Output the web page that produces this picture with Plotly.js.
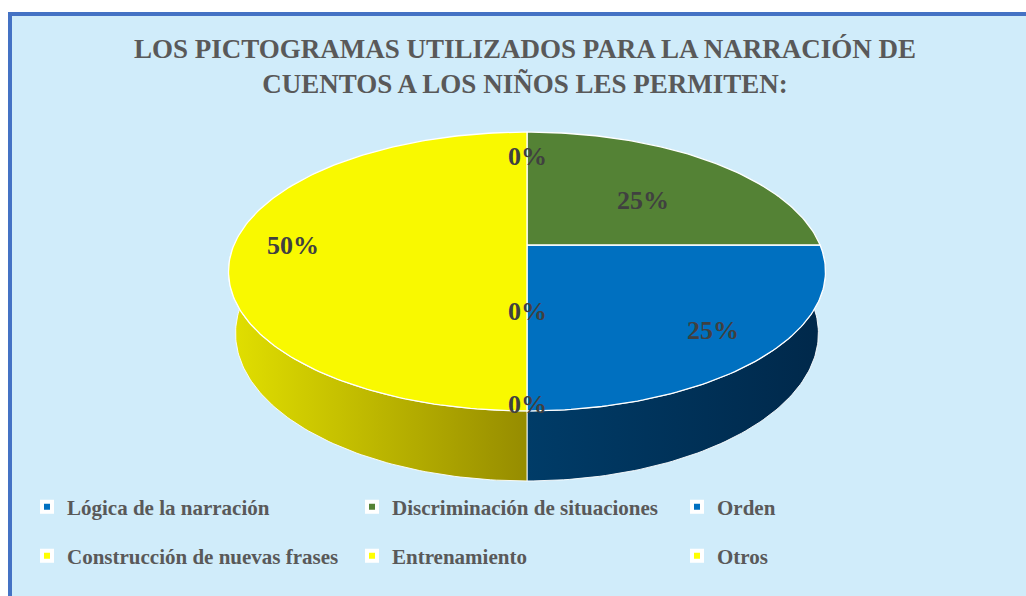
<!DOCTYPE html>
<html><head><meta charset="utf-8">
<script src="https://cdn.plot.ly/plotly-3.0.1.min.js"></script>
<style>html,body{margin:0;padding:0;background:#fff;overflow:hidden}#chart{width:1026px;height:596px}</style>
</head><body><div id="chart"></div><script>
// ---- data ----
const categories = ['Lógica de la narración','Discriminación de situaciones','Orden','Construcción de nuevas frases','Entrenamiento','Otros'];
const values = [25, 25, 0, 0, 0, 50];
const titleText = 'LOS PICTOGRAMAS UTILIZADOS PARA LA NARRACIÓN DE<br>CUENTOS A LOS NIÑOS LES PERMITEN:';

// ---- styles ----
const topColors = ['#0070C0','#548235','#0070C0','#FFFF00','#FFFF00','#F9F900'];
const legendColors = ['#0070C0','#548235','#0070C0','#FFFF00','#FFFF00','#FFFF00'];
const wallShades = [['#003C68','#00284A'],['#2E4A1C','#243A16'],['#003C68','#00284A'],['#E2E000','#958C00'],['#E2E000','#958C00'],['#E2E000','#968C00']];
// label placement on the disc: [angle in degrees or null for mid-angle, radius fraction]
const labelPlace = [[null,0.8],[40,0.55],[90,0.75],[-90,0.45],[-90,0.97],[null,0.8]];

// ---- 3D projection geometry ----
const CX = 527, CY = 245, F = 1370, D = 4.675, ALPHA = 27.3*Math.PI/180, H = 0.239;
const ca = Math.cos(ALPHA), sa = Math.sin(ALPHA);
function proj(r, deg, Y){
  const t = deg*Math.PI/180;
  const X = r*Math.cos(t), Z = r*Math.sin(t);
  const xc = X, yc = Y*ca + Z*sa, zc = -Y*sa + Z*ca + D;
  return [CX + F*xc/zc, CY - F*yc/zc];
}
function arc(a0, a1, Y){
  const pts = [];
  const n = Math.max(2, Math.ceil(Math.abs(a1-a0)));
  for(let k=0;k<=n;k++){ pts.push(proj(1, a0+(a1-a0)*k/n, Y)); }
  return pts;
}

const total = values.reduce((a,b)=>a+b,0);
const START = -90; // 6 o'clock, counterclockwise
const spans = [];
let cum = 0;
values.forEach(v=>{ const a0 = START + 360*cum/total; const a1 = a0 + 360*v/total; spans.push([a0,a1]); cum += v; });

const traces = [];
// side walls (front half only: -180..0 modulo 360)
spans.forEach(([a0,a1],i)=>{
  if(a1-a0<=0) return;
  for(const sh of [-360,0,360]){
    const b0 = Math.max(a0, -180+sh), b1 = Math.min(a1, 0+sh);
    if(b1-b0>0.01){
      const top = arc(b0,b1,0), bot = arc(b1,b0,-H);
      const pts = top.concat(bot); pts.push(top[0]);
      traces.push({type:'scatter', mode:'lines', x:pts.map(p=>p[0]), y:pts.map(p=>p[1]),
        fill:'toself', fillgradient:{type:'horizontal', colorscale:[[0,wallShades[i][0]],[1,wallShades[i][1]]]},
        line:{color:'rgba(255,255,255,0.9)', width:1}, hoverinfo:'skip', showlegend:false});
    }
  }
});
// top faces
spans.forEach(([a0,a1],i)=>{
  if(a1-a0<=0) return;
  const c = proj(0,0,0);
  const pts = [c].concat(arc(a0,a1,0)); pts.push(c);
  traces.push({type:'scatter', mode:'lines', x:pts.map(p=>p[0]), y:pts.map(p=>p[1]),
    fill:'toself', fillcolor:topColors[i], line:{color:'#FFFFFF', width:1.3}, hoverinfo:'skip', showlegend:false});
});
// legend entries
categories.forEach((c,i)=>{
  traces.push({type:'scatter', mode:'markers', x:[null], y:[null], name:c, legend: i<3?'legend':'legend2',
    marker:{symbol:'square', size:10, color:legendColors[i], line:{color:'#FFFFFF', width:4}}, hoverinfo:'skip'});
});

const serif = 'Liberation Serif, Times New Roman, serif';
const annotations = values.map((v,i)=>{
  const [a0,a1] = spans[i];
  const ang = labelPlace[i][0]===null ? (a0+a1)/2 : labelPlace[i][0];
  const p = proj(labelPlace[i][1], ang, 0);
  return {x:p[0], y:p[1], xref:'x', yref:'y', text: Math.round(v/total*100)+'%', showarrow:false,
    xanchor:'center', yanchor:'middle', font:{family:serif, size:26, color:'#404040', weight:700}};
});

const legFont = {family:serif, size:21, color:'#595959', weight:700};
const layout = {
  width:1026, height:596, margin:{l:0,r:0,t:0,b:0},
  paper_bgcolor:'#FFFFFF', plot_bgcolor:'rgba(0,0,0,0)',
  xaxis:{range:[0,1026], visible:false, fixedrange:true},
  yaxis:{range:[596,0], visible:false, fixedrange:true},
  shapes:[{type:'rect', xref:'x', yref:'y', x0:10, y0:14, x1:1300, y1:900, line:{color:'#4472C4', width:4}, fillcolor:'#D0ECFA', layer:'below'}],
  title:{text:titleText, x:525/1026, xref:'container', xanchor:'center', y:1-58/596, yref:'container', yanchor:'middle',
    font:{family:serif, size:27, color:'#595959', weight:700}},
  showlegend:true,
  legend:{orientation:'h', x:27/1026, xanchor:'left', y:1-507/596, yanchor:'middle', entrywidth:280, entrywidthmode:'pixels',
    font:legFont, bgcolor:'rgba(0,0,0,0)', borderwidth:0},
  legend2:{orientation:'h', x:27/1026, xanchor:'left', y:1-556/596, yanchor:'middle', entrywidth:280, entrywidthmode:'pixels',
    font:legFont, bgcolor:'rgba(0,0,0,0)', borderwidth:0},
  annotations: annotations
};
Plotly.newPlot('chart', traces, layout, {staticPlot:true, displayModeBar:false});
</script></body></html>
